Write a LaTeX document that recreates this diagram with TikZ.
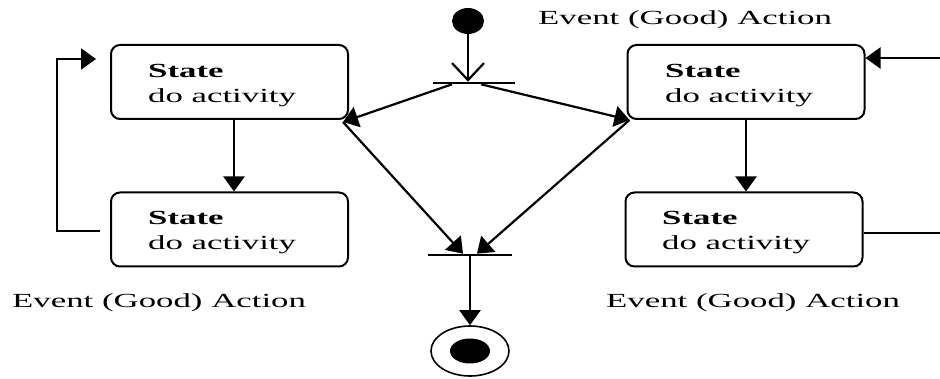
\documentclass[tikz,border=0pt]{standalone}
\usepackage{fontspec}
\setmainfont{Liberation Serif}[FakeStretch=1.74]
\usetikzlibrary{arrows.meta,shapes.geometric,calc}
\begin{document}
\begin{tikzpicture}[x=1pt,y=-1pt,
  statebox/.style={draw,line width=2pt,rounded corners=9pt,minimum width=237pt,minimum height=74pt,inner sep=0pt},
  bar/.style={fill=black,minimum height=2.2pt,inner sep=0pt},
  txt/.style={anchor=base west,inner sep=0pt,font=\fontsize{20}{24}\selectfont},
  arr/.style={line width=2.2pt,-{Triangle[length=15pt,width=21pt]}},
  openarr/.style={line width=2.2pt,-{Straight Barb[length=17pt,width=32pt,line width=2.2pt]}},
  line/.style={line width=2.2pt}]
\useasboundingbox (0,0) rectangle (940,379);

% state boxes
\node[statebox] (L1) at (229.5,82) {};
\node[statebox] (L2) at (229.5,229.5) {};
\node[statebox] (R1) at (746,82) {};
\node[statebox] (R2) at (744,229.5) {};

\node[txt] (L1a) at (148,78) {\bfseries State};
\node[txt] (L1b) at (148,103) {do activity};
\node[txt] (L2a) at (148,225) {\bfseries State};
\node[txt] (L2b) at (148,250) {do activity};
\node[txt] (R1a) at (665,78) {\bfseries State};
\node[txt] (R1b) at (665,103) {do activity};
\node[txt] (R2a) at (662,225) {\bfseries State};
\node[txt] (R2b) at (662,250) {do activity};

% event labels
\node[txt] (ev1) at (538,25) {Event (Good) Action};
\node[txt] (ev2) at (12,308) {Event (Good) Action};
\node[txt] (ev3) at (606,308) {Event (Good) Action};

% initial / final pseudo states and bars
\node[ellipse,fill=black,minimum width=32pt,minimum height=26pt,inner sep=0pt] (init) at (468,21) {};
\node[bar,minimum width=82pt] (fork) at (474,83) {};
\node[bar,minimum width=84pt] (join) at (470,255) {};
\node[ellipse,draw,line width=1.6pt,minimum width=78pt,minimum height=50pt,inner sep=0pt] (final) at (470,351) {};
\node[ellipse,fill=black,minimum width=40pt,minimum height=25pt,inner sep=0pt] (finaldot) at (final.center) {};

% corner points of the diagonal transitions
\coordinate (Lc) at ([shift={(-6,2)}]L1.south east);
\coordinate (Rc) at ([shift={(3,0)}]R1.south west);

% transitions
\draw[openarr] (init.south) -- (init.south |- fork.north);
\draw[arr] ([xshift=-22pt]fork.south) -- (Lc);
\draw[arr] ([xshift=7pt]fork.south) -- (Rc);
\draw[arr] (Lc) -- ([xshift=-7pt]join.north);
\draw[arr] (Rc) -- ([xshift=7pt]join.north);
\draw[arr] (join.south) -- (final.north);

\draw[arr] ([xshift=4.5pt]L1.south) -- ([xshift=4.5pt]L2.north);
\draw[arr] (R1.south) -- (R1.south |- R2.north);

% self loops
\draw[arr] ([shift={(-10,1.5)}]L2.west) -- ++(-43,0) |- ([shift={(-14,-23)}]L1.west);
\coordinate (rout) at (940,233);
\coordinate (rin) at (940,58);
\draw[line] (R2.east |- rout) -- (rout);
\draw[arr] (rin) -- (rin -| R1.east);
\end{tikzpicture}
\end{document}
